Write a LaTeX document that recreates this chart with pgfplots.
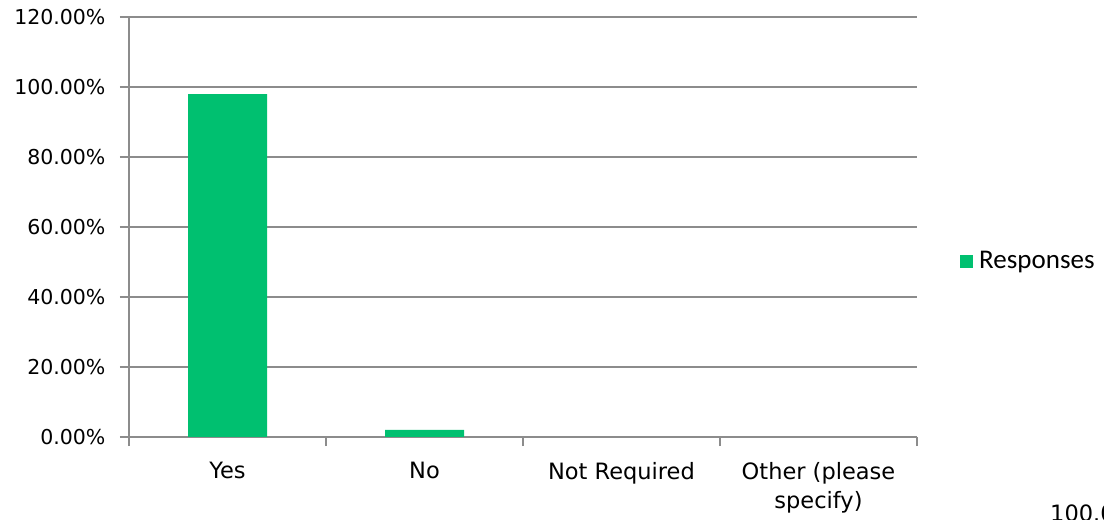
\documentclass[border=0pt]{standalone}
\usepackage{fontspec}
\setmainfont{DejaVu Sans}
\newfontfamily\legfont{Carlito}
\usepackage{pgfplots}
\pgfplotsset{compat=1.18}
\definecolor{barcol}{RGB}{0,192,112}
\definecolor{gridcol}{RGB}{140,140,140}
\begin{document}
\begin{tikzpicture}
\useasboundingbox (0,0) rectangle (1104bp,520bp);
\begin{axis}[
  at={(129bp,83bp)}, anchor=south west,
  scale only axis, width=788bp, height=420bp,
  xmin=-0.5, xmax=3.5, ymin=0, ymax=120,
  axis x line*=bottom, axis y line*=left,
  axis line style={gridcol, line width=1.5bp},
  ytick={0,20,...,120},
  ymajorgrids, grid style={gridcol, line width=1.5bp},
  tick align=outside,
  major tick length=9bp,
  tick style={gridcol, line width=1.5bp},
  xtick={-0.5,0.5,1.5,2.5,3.5}, xticklabels={},
  extra x ticks={0,1,2,3},
  extra x tick labels={Yes,No,Not Required,{Other (please\\specify)}},
  extra x tick style={major tick length=0pt, grid=none},
  xticklabel style={align=center, font=\fontsize{22.5bp}{29bp}\selectfont, yshift=-22bp},
  yticklabel style={font=\fontsize{20.5bp}{24bp}\selectfont, xshift=-11bp},
  yticklabel={\pgfmathprintnumber[fixed,fixed zerofill,precision=2]{\tick}\%},
  /pgf/number format/assume math mode=true,
  legend style={at={(1.0546,0.419)}, anchor=west, draw=none, fill=none, inner sep=0pt,
    font=\legfont\fontsize{27bp}{30bp}\selectfont},
  legend image code/.code={\fill[barcol] (0bp,-6.5bp) rectangle (13bp,6.5bp);},
  legend cell align=left,
]
\addplot[ybar, bar width=79bp, fill=barcol, draw=none] coordinates {(0,97.96) (1,2.04) (2,0) (3,0)};
\addlegendentry{\hspace{4bp}Responses}
\end{axis}
\node[anchor=north west, inner sep=0pt, font=\fontsize{22.5bp}{24bp}\selectfont] at (1050bp,15bp) {100.00\%};
\end{tikzpicture}
\end{document}
